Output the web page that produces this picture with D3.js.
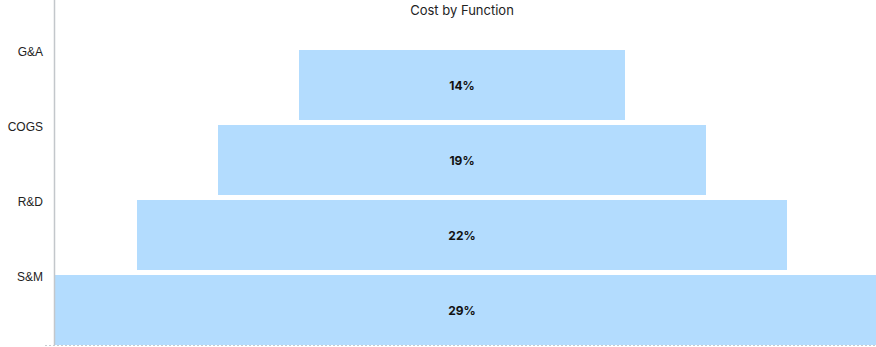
<!DOCTYPE html>
<html>
<head>
<meta charset="utf-8">
<script src="https://cdn.jsdelivr.net/npm/d3@7"></script>
<style>
  html, body { margin: 0; padding: 0; background: #fff; }
  svg { display: block; font-family: Inter, "Noto Sans", sans-serif; }
</style>
</head>
<body>
<svg id="chart" width="876" height="347"></svg>
<script>
// ---- data ----
const title = "Cost by Function";
const categories = ["G&A", "COGS", "R&D", "S&M"];
const shares = [14, 19, 22, 29];          // percent of cost
const stageRank = [0, 1, 2, 3];            // funnel stage order (top → base)

// ---- layout ----
const W = 876, H = 347;
const plotLeft = 55, plotRight = 876, centerX = 462;
const svg = d3.select("#chart");

const y = d3.scaleBand()
  .domain(categories)
  .range([47.5, 347.5])
  .paddingInner(1 / 15)
  .paddingOuter(1 / 30);

const yLabel = d3.scalePoint()
  .domain(categories)
  .range([y(categories[0]) + 2, y(categories[categories.length - 1]) + 2]);

// funnel stage width scale (by rank); the base stage spans the whole plot
const wScale = d3.scaleLinear().domain([0, 1]).range([326, 488]);
const lastIdx = categories.length - 1;

const data = categories.map((c, i) => ({ cat: c, value: shares[i], rank: stageRank[i] }));

// bottom dashed baseline
svg.append("line")
  .attr("x1", 45).attr("x2", W)
  .attr("y1", 345.5).attr("y2", 345.5)
  .attr("stroke", "#c8ccd0")
  .attr("stroke-width", 1)
  .attr("stroke-dasharray", "2,2");

// bars
svg.append("g").selectAll("rect")
  .data(data)
  .join("rect")
  .attr("x", d => d.rank === lastIdx ? plotLeft : centerX - wScale(d.rank) / 2)
  .attr("width", d => d.rank === lastIdx ? plotRight - plotLeft : wScale(d.rank))
  .attr("y", d => y(d.cat))
  .attr("height", y.bandwidth())
  .attr("fill", "#b3dcfe");

// bar labels
svg.append("g").selectAll("text")
  .data(data)
  .join("text")
  .attr("x", centerX)
  .attr("y", d => y(d.cat) + y.bandwidth() / 2)
  .attr("dy", "0.42em")
  .attr("text-anchor", "middle")
  .attr("font-size", 12)
  .attr("font-weight", 700)
  .attr("fill", "#111")
  .text(d => d.value + "%");

// y axis
const yAxis = svg.append("g")
  .attr("transform", `translate(${plotLeft},0)`)
  .call(d3.axisLeft(yLabel).tickSize(0).tickPadding(12));
yAxis.select(".domain").remove();
yAxis.selectAll("text")
  .attr("font-size", 12)
  .attr("font-family", "'Liberation Sans', Arial, sans-serif")
  .attr("fill", "#222");

svg.append("line")
  .attr("x1", plotLeft - 0.5).attr("x2", plotLeft - 0.5)
  .attr("y1", 0).attr("y2", 345)
  .attr("stroke", "#c3c7cb")
  .attr("stroke-width", 1.5);

// title
svg.append("text")
  .attr("x", centerX)
  .attr("y", 15)
  .attr("text-anchor", "middle")
  .attr("font-size", 13)
  .attr("fill", "#222")
  .text(title);
</script>
</body>
</html>
